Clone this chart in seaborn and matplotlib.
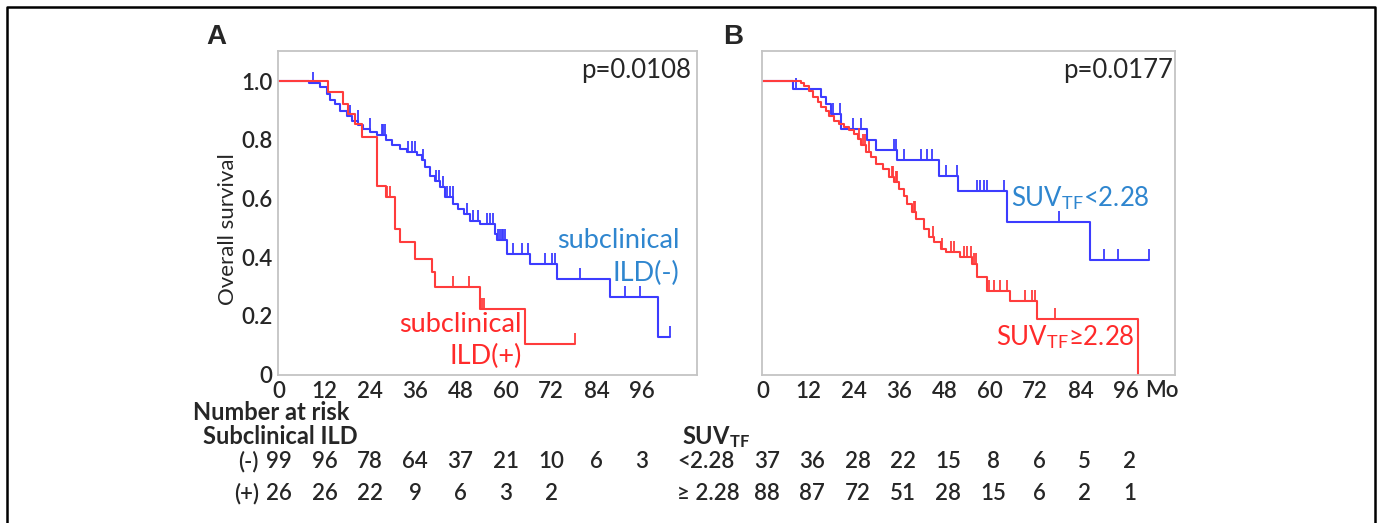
import numpy as np
import matplotlib
matplotlib.use("Agg")
import matplotlib.pyplot as plt
from matplotlib.path import Path
from matplotlib.lines import Line2D
from matplotlib.transforms import blended_transform_factory
import seaborn as sns

sns.set_style("white")
plt.rcParams["font.family"] = ["Lato", "DejaVu Sans"]
plt.rcParams["mathtext.fontset"] = "custom"
plt.rcParams["mathtext.rm"] = "Lato"
plt.rcParams["mathtext.bf"] = "Lato:bold"
plt.rcParams["mathtext.it"] = "Lato:italic"

# ---------------- data ----------------
tick_months = [0, 12, 24, 36, 48, 60, 72, 84, 96]

# Panel A: subclinical ILD(-)
a_neg_time = [0, 7.8, 10.9, 12.6, 13.5, 14.8, 16.1, 17.9, 19.2, 21.0, 22.3, 24.1, 25.8, 28.3,
              29.8, 32.0, 33.8, 36.4, 37.7, 38.6, 39.9, 41.3, 42.6, 43.9, 46.1, 47.4, 48.8,
              50.5, 53.2, 57.1, 57.6, 60.2, 66.4, 73.5, 87.6, 100.4, 103.4]
a_neg_surv = [1.0, 0.993, 0.980, 0.957, 0.936, 0.923, 0.900, 0.883, 0.866, 0.849, 0.838, 0.826,
              0.815, 0.798, 0.781, 0.769, 0.758, 0.747, 0.730, 0.707, 0.678, 0.661, 0.639, 0.605,
              0.582, 0.565, 0.548, 0.525, 0.514, 0.480, 0.457, 0.411, 0.377, 0.326, 0.264, 0.127, 0.127]
a_neg_censor = [8.9, 18.8, 20.8, 24.0, 27.2, 27.6, 28.0, 34.2, 35.1, 36.0, 38.2, 41.5, 42.2, 43.5,
                44.4, 45.2, 45.9, 49.6, 51.4, 52.7, 54.9, 55.8, 56.7, 58.0, 58.5, 58.9, 59.3, 59.7,
                62.0, 64.2, 66.0, 70.4, 72.1, 73.0, 79.6, 91.5, 95.5, 103.4]

# Panel A: subclinical ILD(+)
a_pos_time = [0, 13.0, 17.0, 18.3, 20.1, 21.9, 25.8, 28.2, 30.7, 32.0, 36.0, 40.4, 41.3, 53.2, 65.1, 78.3]
a_pos_surv = [1.0, 0.963, 0.923, 0.889, 0.855, 0.809, 0.644, 0.605, 0.497, 0.451, 0.394, 0.349,
              0.298, 0.224, 0.105, 0.105]
a_pos_censor = [28.6, 29.3, 46.1, 50.3, 53.8, 54.2, 78.3]

# Panel B: SUV_TF < 2.28
b_low_time = [0, 7.8, 15.3, 16.6, 17.9, 20.6, 27.6, 29.8, 35.5, 46.5, 51.5, 64.6, 86.5, 102.2]
b_low_surv = [1.0, 0.974, 0.946, 0.923, 0.889, 0.838, 0.798, 0.764, 0.730, 0.678, 0.627, 0.519, 0.389, 0.389]
b_low_censor = [8.7, 18.4, 20.3, 23.7, 25.9, 34.7, 35.1, 37.3, 41.7, 43.4, 44.8, 48.3, 51.2, 56.6,
                57.5, 58.4, 59.3, 63.7, 78.2, 90.1, 94.0, 102.2]

# Panel B: SUV_TF >= 2.28
b_high_time = [0, 10.0, 10.9, 12.2, 13.1, 14.4, 15.3, 16.6, 17.5, 18.8, 20.1, 21.5, 22.8, 24.1, 25.0,
               25.9, 27.2, 28.5, 29.8, 31.6, 33.3, 34.7, 36.0, 37.3, 38.2, 39.5, 40.4, 42.6, 43.9,
               45.2, 47.0, 48.3, 52.2, 55.3, 56.6, 59.3, 65.4, 72.5, 99.3]
b_high_surv = [1.0, 0.993, 0.982, 0.966, 0.946, 0.929, 0.911, 0.900, 0.883, 0.866, 0.855, 0.843, 0.832,
               0.821, 0.803, 0.781, 0.758, 0.741, 0.718, 0.701, 0.673, 0.656, 0.633, 0.610, 0.582,
               0.553, 0.531, 0.497, 0.468, 0.451, 0.428, 0.417, 0.400, 0.377, 0.332, 0.286, 0.252, 0.190, 0.0]
b_high_censor = [25.4, 26.3, 27.0, 28.0, 34.2, 34.5, 35.1, 35.5, 40.0, 40.2, 44.9, 47.4, 49.6, 50.5,
                 53.1, 54.0, 54.9, 55.8, 56.4, 59.7, 61.0, 62.8, 64.5, 69.4, 71.2, 72.0, 77.3]

# Numbers at risk
risk_a_neg = [99, 96, 78, 64, 37, 21, 10, 6, 3]
risk_a_pos = [26, 26, 22, 9, 6, 3, 2]
risk_b_low = [37, 36, 28, 22, 15, 8, 6, 5, 2]
risk_b_high = [88, 87, 72, 51, 28, 15, 6, 2, 1]

p_a = "p=0.0108"
p_b = "p=0.0177"

# ---------------- style ----------------
BLUE = "#3c3cff"
RED = "#ff3c3c"
BLUE_TXT = "#2f86cf"
RED_TXT = "#ff2a2a"
SPINE = "#c4c4c4"
TXT = "#262626"
FS_TICK = 16
FS_RISK = 16
NUM_W = "semibold"

W, H = 1381, 523
fig = plt.figure(figsize=(W / 100, H / 100), dpi=100)
fig.patch.set_facecolor("white")

def frac(x0, y0, x1, y1):
    return [x0 / W, 1 - y1 / H, (x1 - x0) / W, (y1 - y0) / H]

axA = fig.add_axes(frac(278, 50.7, 697, 374.5))
axB = fig.add_axes(frac(762, 50.7, 1175, 374.5))

up_tick = Path([(0, 0), (0, 1)], [Path.MOVETO, Path.LINETO])


def km(ax, t, s, cens, color):
    sns.lineplot(x=t, y=s, ax=ax, color=color, lw=1.5, drawstyle="steps-post",
                 estimator=None, sort=False)
    t = np.asarray(t)
    s = np.asarray(s)
    idx = np.searchsorted(t, cens, side="right") - 1
    ax.plot(cens, s[idx], ls="none", marker=up_tick, ms=16, mew=1.3, color=color)


km(axA, a_neg_time, a_neg_surv, a_neg_censor, BLUE)
km(axA, a_pos_time, a_pos_surv, a_pos_censor, RED)
km(axB, b_low_time, b_low_surv, b_low_censor, BLUE)
km(axB, b_high_time, b_high_surv, b_high_censor, RED)

for ax, xmax in ((axA, 110.6), (axB, 109.0)):
    ax.set_xlim(-0.3, xmax)
    ax.set_ylim(0, 1.104)
    ax.set_xlabel("")
    ax.set_ylabel("")
    for sp in ax.spines.values():
        sp.set_color(SPINE)
        sp.set_linewidth(1.3)
    ax.set_xticks(tick_months + [108])
    ax.set_xticklabels([str(m) for m in tick_months] + [""], fontsize=FS_TICK, color=TXT,
                       fontweight=NUM_W)
    ax.set_yticks([0, 0.2, 0.4, 0.6, 0.8, 1.0])
    ax.tick_params(axis="both", direction="in", length=3, width=1, color=SPINE, pad=4)
    ax.tick_params(axis="x", pad=5)

axA.set_yticklabels(["0", "0.2", "0.4", "0.6", "0.8", "1.0"], fontsize=FS_TICK, color=TXT,
                    fontweight=NUM_W)
axB.set_yticklabels([])
axA.set_ylabel("Overall survival", fontsize=16, color=TXT)
axA.yaxis.set_label_coords(-0.095, 0.45)

# p-values
axA.text(0.985, 0.94, p_a, transform=axA.transAxes, ha="right", va="center", fontsize=18.5, color=TXT)
axB.text(0.995, 0.94, p_b, transform=axB.transAxes, ha="right", va="center", fontsize=18.5, color=TXT)

# curve labels
lab = dict(ha="right", va="center", fontsize=19.5)
axA.text(106, 0.457, "subclinical", color=BLUE_TXT, **lab)
axA.text(106, 0.344, "ILD(-)", color=BLUE_TXT, **lab)
axA.text(64.3, 0.170, "subclinical", color=RED_TXT, **lab)
axA.text(64.3, 0.061, "ILD(+)", color=RED_TXT, **lab)
lab["fontsize"] = 18.5
axB.text(102.4, 0.60, r"SUV$_{\mathrm{TF}}$<2.28", color=BLUE_TXT, **lab)
axB.text(98.4, 0.126, r"SUV$_{\mathrm{TF}}$≥2.28", color=RED_TXT, **lab)

# Mo label
axB.text(101.0, -0.05, "Mo", transform=blended_transform_factory(axB.transData, axB.transAxes),
         ha="left", va="center", fontsize=FS_TICK, color=TXT, fontweight=NUM_W)

# panel letters
fig.text(216 / W, 1 - 37 / H, "A", fontsize=20, fontweight="bold", ha="center", va="center",
         family="Liberation Sans")
fig.text(733 / W, 1 - 37 / H, "B", fontsize=20, fontweight="bold", ha="center", va="center",
         family="Liberation Sans")

# risk table
trA = blended_transform_factory(axA.transData, axA.transAxes)
trB = blended_transform_factory(axB.transData, axB.transAxes)
y_num = -0.116
y_grp = -0.193
y_r1 = -0.270
y_r2 = -0.369
rt = dict(ha="center", va="center", fontsize=FS_RISK, color=TXT, fontweight=NUM_W)

axA.text(-0.203, y_num, "Number at risk", transform=axA.transAxes, ha="left", va="center",
         fontsize=17, fontweight="bold", color=TXT)
axA.text(-0.180, y_grp, "Subclinical ILD", transform=axA.transAxes, ha="left", va="center",
         fontsize=17, fontweight="bold", color=TXT)
axA.text(-0.046, y_r1, "(-)", transform=axA.transAxes, ha="right", va="center", fontsize=FS_RISK,
         color=TXT, fontweight=NUM_W)
axA.text(-0.046, y_r2, "(+)", transform=axA.transAxes, ha="right", va="center", fontsize=FS_RISK,
         color=TXT, fontweight=NUM_W)
for m, n in zip(tick_months, risk_a_neg):
    axA.text(m, y_r1, str(n), transform=trA, **rt)
for m, n in zip(tick_months, risk_a_pos):
    axA.text(m, y_r2, str(n), transform=trA, **rt)

axB.text(-0.193, y_grp, r"$\mathbf{SUV_{TF}}$", transform=axB.transAxes, ha="left", va="center",
         fontsize=17, color=TXT)
axB.text(-0.205, y_r1, "<2.28", transform=axB.transAxes, ha="left", va="center", fontsize=FS_RISK,
         color=TXT, fontweight=NUM_W)
axB.text(-0.205, y_r2, "≥ 2.28", transform=axB.transAxes, ha="left", va="center", fontsize=FS_RISK,
         color=TXT, fontweight=NUM_W)
for m, n in zip(tick_months, risk_b_low):
    axB.text(m + 1, y_r1, str(n), transform=trB, **rt)
for m, n in zip(tick_months, risk_b_high):
    axB.text(m + 1, y_r2, str(n), transform=trB, **rt)

# outer frame (open at bottom)
fx0, fx1, fy1 = 6.5 / W, 1375 / W, 1 - 6.5 / H
fig.add_artist(Line2D([fx0, fx0, fx1, fx1], [0, fy1, fy1, 0], transform=fig.transFigure,
                      color="black", lw=1.8))

fig.savefig("out.png", dpi=100, facecolor="white")
